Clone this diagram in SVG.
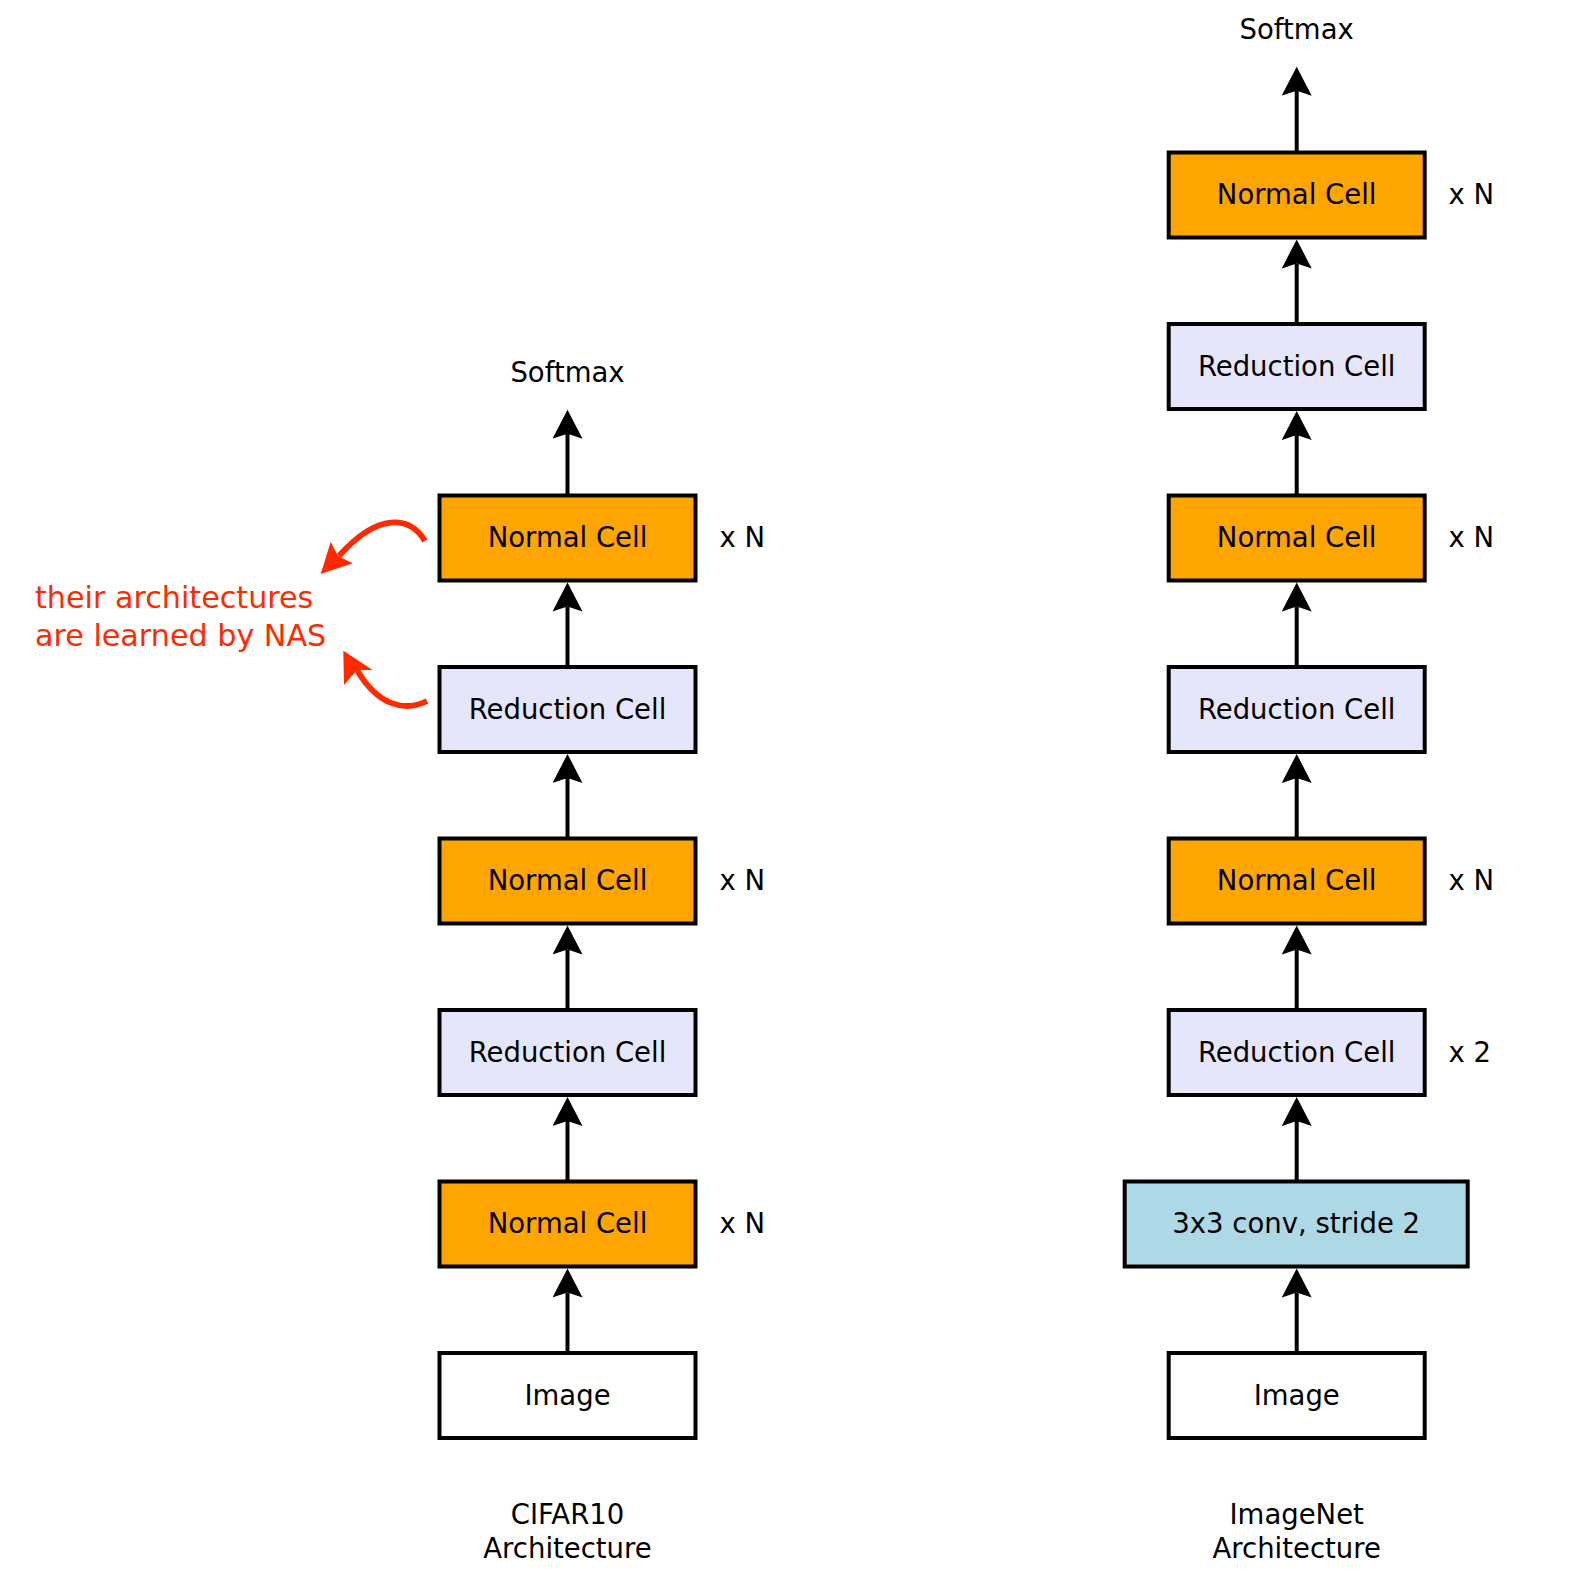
<svg xmlns="http://www.w3.org/2000/svg" width="1570" height="1586" viewBox="0 0 1570 1586">
<style>
.box{stroke:#000;stroke-width:4}
.normal{fill:#FFA500}
.reduction{fill:#E6E6FA}
.conv{fill:#ADD8E6}
.image{fill:#fff}
text{font-family:"DejaVu Sans","Liberation Sans",sans-serif;font-size:27.5px;fill:#000}
.c{text-anchor:middle}
.red{fill:#FF2A00;font-size:30.2px}
.edge{stroke:#000;stroke-width:4;fill:none;marker-end:url(#ah)}
.redge{stroke:#FF2A00;stroke-width:5.8;fill:none}
</style>
<defs>
<marker id="ah" viewBox="0 0 30 30" markerWidth="30" markerHeight="30" refX="5" refY="15" orient="auto" markerUnits="userSpaceOnUse">
<path d="M29,15 L0,0 L5,15 L0,30 Z" fill="#000"/>
</marker>
</defs>
<rect width="1570" height="1586" fill="#fff"/>

<g id="connectors">
<!-- left column -->
<path class="edge" d="M567.5,495.5 V433.7"/>
<path class="edge" d="M567.5,667 V606.5"/>
<path class="edge" d="M567.5,838.5 V778"/>
<path class="edge" d="M567.5,1010 V949.5"/>
<path class="edge" d="M567.5,1181.5 V1121"/>
<path class="edge" d="M567.5,1353 V1292.5"/>
<!-- right column -->
<path class="edge" d="M1296.7,152.5 V90.7"/>
<path class="edge" d="M1296.7,324 V263.5"/>
<path class="edge" d="M1296.7,495.5 V435"/>
<path class="edge" d="M1296.7,667 V606.5"/>
<path class="edge" d="M1296.7,838.5 V778"/>
<path class="edge" d="M1296.7,1010 V949.5"/>
<path class="edge" d="M1296.7,1181.5 V1121"/>
<path class="edge" d="M1296.7,1353 V1292.5"/>
<!-- red annotation arrows -->
<path class="redge" d="M425,541 C410,516 378,512 339,556"/>
<path d="M320.7,574 L330.7,541.7 L338,556 L352.7,563.3 Z" fill="#FF2A00"/>
<path class="redge" d="M427,701 C405,712 378,706 357,670"/>
<path d="M343.3,650.7 L372.7,670 L357,670 L344,685 Z" fill="#FF2A00"/>
</g>

<g id="cifar-softmax"><text class="c" x="567.5" y="382">Softmax</text></g>
<g id="cifar-normal3"><rect class="box normal" x="439.5" y="495.5" width="256" height="85"/><text class="c" x="567.5" y="547">Normal Cell</text><text x="719.5" y="547">x N</text></g>
<g id="cifar-reduction2"><rect class="box reduction" x="439.5" y="667" width="256" height="85"/><text class="c" x="567.5" y="718.5">Reduction Cell</text></g>
<g id="cifar-normal2"><rect class="box normal" x="439.5" y="838.5" width="256" height="85"/><text class="c" x="567.5" y="890">Normal Cell</text><text x="719.5" y="890">x N</text></g>
<g id="cifar-reduction1"><rect class="box reduction" x="439.5" y="1010" width="256" height="85"/><text class="c" x="567.5" y="1061.5">Reduction Cell</text></g>
<g id="cifar-normal1"><rect class="box normal" x="439.5" y="1181.5" width="256" height="85"/><text class="c" x="567.5" y="1233">Normal Cell</text><text x="719.5" y="1233">x N</text></g>
<g id="cifar-image"><rect class="box image" x="439.5" y="1353" width="256" height="85"/><text class="c" x="567.5" y="1404.5">Image</text></g>
<g id="cifar-label"><text class="c" x="567.5" y="1524">CIFAR10</text><text class="c" x="567.5" y="1558">Architecture</text></g>

<g id="annotation"><text class="red" x="35" y="607.5">their architectures</text><text class="red" x="35" y="646">are learned by NAS</text></g>

<g id="imagenet-softmax"><text class="c" x="1296.7" y="39">Softmax</text></g>
<g id="imagenet-normal3"><rect class="box normal" x="1168.7" y="152.5" width="256" height="85"/><text class="c" x="1296.7" y="204">Normal Cell</text><text x="1448.5" y="204">x N</text></g>
<g id="imagenet-reduction3"><rect class="box reduction" x="1168.7" y="324" width="256" height="85"/><text class="c" x="1296.7" y="375.5">Reduction Cell</text></g>
<g id="imagenet-normal2"><rect class="box normal" x="1168.7" y="495.5" width="256" height="85"/><text class="c" x="1296.7" y="547">Normal Cell</text><text x="1448.5" y="547">x N</text></g>
<g id="imagenet-reduction2"><rect class="box reduction" x="1168.7" y="667" width="256" height="85"/><text class="c" x="1296.7" y="718.5">Reduction Cell</text></g>
<g id="imagenet-normal1"><rect class="box normal" x="1168.7" y="838.5" width="256" height="85"/><text class="c" x="1296.7" y="890">Normal Cell</text><text x="1448.5" y="890">x N</text></g>
<g id="imagenet-reduction1"><rect class="box reduction" x="1168.7" y="1010" width="256" height="85"/><text class="c" x="1296.7" y="1061.5">Reduction Cell</text><text x="1448.5" y="1061.5">x 2</text></g>
<g id="imagenet-conv"><rect class="box conv" x="1124.7" y="1181.5" width="343" height="85"/><text class="c" x="1296.2" y="1233">3x3 conv, stride 2</text></g>
<g id="imagenet-image"><rect class="box image" x="1168.7" y="1353" width="256" height="85"/><text class="c" x="1296.7" y="1404.5">Image</text></g>
<g id="imagenet-label"><text class="c" x="1296.7" y="1524">ImageNet</text><text class="c" x="1296.7" y="1558">Architecture</text></g>
</svg>
